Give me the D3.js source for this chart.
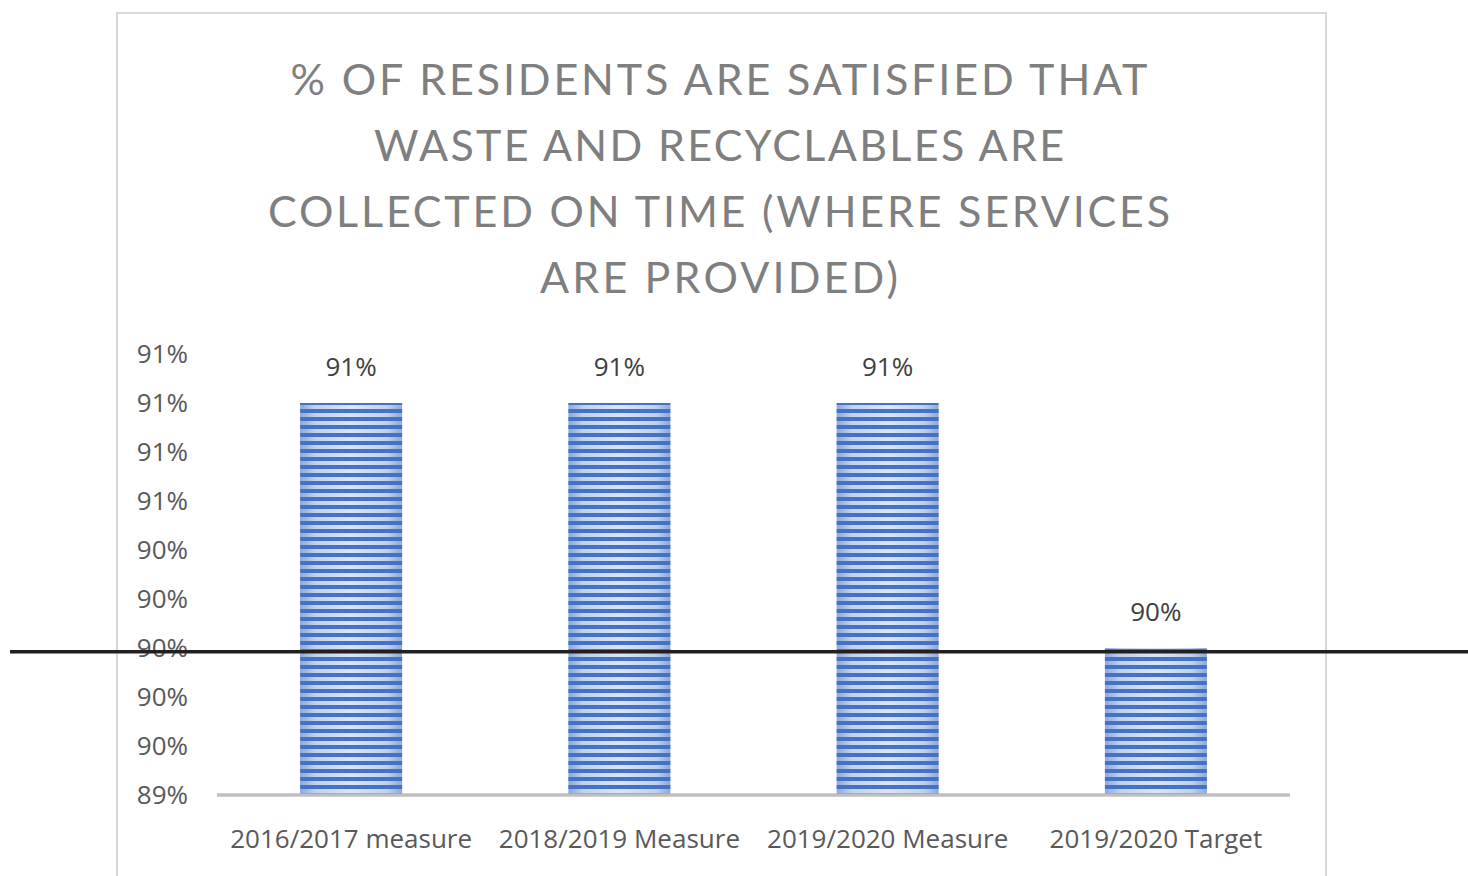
<!DOCTYPE html>
<html>
<head>
<meta charset="utf-8">
<script src="https://cdn.jsdelivr.net/npm/d3@7"></script>
<style>
  html, body { margin: 0; padding: 0; background: #fff; }
  svg { display: block; }
</style>
</head>
<body>
<svg id="chart" width="1468" height="876"></svg>
<script>
// Chart data
const titleLines = [
  "% OF RESIDENTS ARE SATISFIED THAT",
  "WASTE AND RECYCLABLES ARE",
  "COLLECTED ON TIME (WHERE SERVICES",
  "ARE PROVIDED)"
];
const categories = ["2016/2017 measure", "2018/2019 Measure", "2019/2020 Measure", "2019/2020 Target"];
const values = [91, 91, 91, 90];
const yTicks = [89.4, 89.6, 89.8, 90.0, 90.2, 90.4, 90.6, 90.8, 91.0, 91.2];
const targetLineValue = 89.985;

const svg = d3.select("#chart");
const W = 1468, H = 876;

// Layout
const plot = { left: 217, right: 1290, top: 354, bottom: 795 };

const x = d3.scaleBand()
  .domain(categories)
  .range([plot.left, plot.right])
  .paddingInner(0.62)
  .paddingOuter(0.31);

const y = d3.scaleLinear()
  .domain([yTicks[0], yTicks[yTicks.length - 1]])
  .range([plot.bottom, plot.top]);

const fmt = v => d3.format(".0f")(v) + "%";

// Defs: horizontal striped fill with soft edge shading
const defs = svg.append("defs");
const grad = defs.append("linearGradient")
  .attr("id", "barShade")
  .attr("x1", "0%").attr("x2", "100%").attr("y1", "0%").attr("y2", "0%");
grad.append("stop").attr("offset", "0%").attr("stop-color", "#8ea8db");
grad.append("stop").attr("offset", "15%").attr("stop-color", "#c3d1ee");
grad.append("stop").attr("offset", "50%").attr("stop-color", "#dce5f5");
grad.append("stop").attr("offset", "85%").attr("stop-color", "#c3d1ee");
grad.append("stop").attr("offset", "100%").attr("stop-color", "#8ea8db");

const pat = defs.append("pattern")
  .attr("id", "stripes")
  .attr("patternUnits", "userSpaceOnUse")
  .attr("x", 0).attr("y", 0)
  .attr("width", 10).attr("height", 8);
pat.append("rect").attr("x", 0).attr("y", 1).attr("width", 10).attr("height", 4).attr("fill", "#4472c4");

// Outer chart frame
svg.append("rect")
  .attr("x", 117).attr("y", 13)
  .attr("width", 1209).attr("height", H)
  .attr("fill", "#fff")
  .attr("stroke", "#d9d9d9")
  .attr("stroke-width", 2);

// Title
const titleWidths = [857, 690, 902, 358];
svg.append("g").selectAll("text")
  .data(titleLines)
  .join("text")
  .attr("x", 719)
  .attr("y", (d, i) => 95 + i * 66)
  .attr("text-anchor", "middle")
  .attr("textLength", (d, i) => titleWidths[i])
  .attr("lengthAdjust", "spacing")
  .attr("font-family", "Lato, 'Open Sans', sans-serif")
  .attr("font-weight", 400)
  .attr("font-size", 43)
  .attr("fill", "#7f7f7f")
  .text(d => d);

// Y axis labels
const yAxis = d3.axisLeft(y)
  .tickValues(yTicks)
  .tickFormat(fmt)
  .tickSize(0)
  .tickPadding(0);
const yg = svg.append("g")
  .attr("transform", `translate(188,0)`)
  .call(yAxis);
yg.select(".domain").remove();
yg.selectAll("text")
  .attr("font-family", "'Open Sans', sans-serif")
  .attr("font-size", 26)
  .attr("fill", "#595959")
  .attr("dy", "0.34em");

// Bars
const bars = svg.append("g");
bars.selectAll("rect.base")
  .data(values)
  .join("rect")
  .attr("class", "base")
  .attr("x", (d, i) => x(categories[i]))
  .attr("y", d => y(d))
  .attr("width", x.bandwidth())
  .attr("height", d => plot.bottom - y(d))
  .attr("fill", "url(#barShade)");
bars.selectAll("rect.stripe")
  .data(values)
  .join("rect")
  .attr("class", "stripe")
  .attr("x", (d, i) => x(categories[i]))
  .attr("y", d => y(d))
  .attr("width", x.bandwidth())
  .attr("height", d => plot.bottom - y(d))
  .attr("fill", "url(#stripes)");

// Data labels
svg.append("g").selectAll("text")
  .data(values)
  .join("text")
  .attr("x", (d, i) => x(categories[i]) + x.bandwidth() / 2)
  .attr("y", d => y(d) - 27)
  .attr("text-anchor", "middle")
  .attr("font-family", "'Open Sans', sans-serif")
  .attr("font-size", 26)
  .attr("fill", "#404040")
  .text(d => fmt(d));

// Category axis
const xAxis = d3.axisBottom(x).tickSize(0).tickPadding(0);
const xg = svg.append("g")
  .attr("transform", `translate(0,${plot.bottom})`)
  .call(xAxis);
xg.select(".domain").remove();
xg.selectAll("text")
  .attr("font-family", "'Open Sans', sans-serif")
  .attr("font-size", 26)
  .attr("fill", "#595959")
  .attr("dy", "0")
  .attr("y", 53);

svg.append("line")
  .attr("x1", plot.left).attr("x2", plot.right)
  .attr("y1", plot.bottom).attr("y2", plot.bottom)
  .attr("stroke", "#bfbfbf")
  .attr("stroke-width", 3.5);

// Target reference line
svg.append("line")
  .attr("x1", 10).attr("x2", W)
  .attr("y1", y(targetLineValue)).attr("y2", y(targetLineValue))
  .attr("stroke", "#231f20")
  .attr("stroke-width", 3.5);
</script>
</body>
</html>
